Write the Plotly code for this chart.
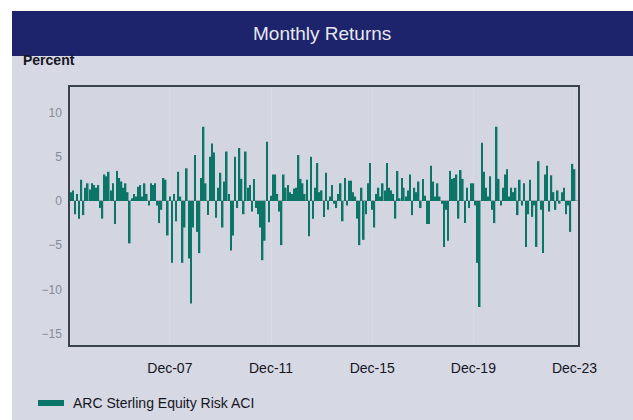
import plotly.graph_objects as go

series_name = "ARC Sterling Equity Risk ACI"
chart_title = "Monthly Returns"
y_axis_title = "Percent"
start_year = 2004

# Monthly returns (%), Jan 2004 .. Dec 2023, one list per year
r2004 = [1.0, 1.2, -1.5, 0.8, -2.0, 2.4, -1.6, 1.5, 2.0, 1.3, 2.0, 1.8]
r2005 = [1.5, 1.8, -0.8, -2.0, 3.0, 2.8, 3.3, 1.2, 2.0, -2.6, 3.4, 2.6]
r2006 = [2.2, 1.5, 2.0, 1.0, -4.8, 0.3, 0.8, 0.5, 1.6, 1.8, 0.5, 2.0]
r2007 = [0.8, -0.5, 2.0, 1.8, 2.0, -0.5, -2.5, -1.0, 2.6, 2.4, -3.9, 0.5]
r2008 = [-7.0, 0.8, -2.3, 3.3, 0.5, -7.0, -3.0, 3.7, -6.5, -11.6, -3.0, 5.2]
r2009 = [-3.5, -5.9, 2.6, 8.4, 2.0, -1.6, 5.0, 6.5, 5.5, -1.9, 1.5, 3.2]
r2010 = [-3.0, 2.2, 5.6, 0.8, -5.6, -3.9, 5.0, -0.8, 6.0, 2.5, -1.5, 5.6]
r2011 = [1.5, 1.8, -1.2, 2.5, -0.8, -1.5, -3.0, -6.7, -4.5, 6.7, -2.4, 0.6]
r2012 = [3.0, 3.0, 0.8, -1.2, -5.0, 3.0, 1.5, 1.8, 1.0, 0.8, 1.4, 1.5]
r2013 = [5.2, 2.5, 2.0, 0.8, 2.4, -4.0, 5.0, -2.0, 1.5, 4.3, 1.0, 1.2]
r2014 = [-1.8, 3.2, -1.0, 0.5, 1.8, -0.3, -0.8, 0.8, 2.0, -2.3, 2.6, -0.5]
r2015 = [2.3, 2.3, 1.0, 0.5, -2.0, -5.0, 1.5, -4.4, -1.5, 2.0, 4.3, -1.0]
r2016 = [-3.0, 0.8, 1.5, 0.5, 2.0, 1.2, 4.3, 1.5, 1.2, 0.8, -2.0, 3.4]
r2017 = [0.3, 2.6, 1.5, 0.5, 1.2, 3.0, -1.6, 1.5, 1.0, 2.2, -0.8, 2.5]
r2018 = [0.6, -2.6, -2.6, 4.0, 2.2, 0.5, 2.0, 0.5, -0.3, -5.2, -1.0, -4.5]
r2019 = [3.4, 2.5, 2.6, 3.0, -2.0, 3.5, 2.5, -2.5, 1.5, -0.8, 2.0, 2.0]
r2020 = [-0.5, -7.0, -12.0, 6.6, 3.3, 1.5, 0.5, 2.8, -1.0, -2.5, 8.4, 2.5]
r2021 = [-0.5, 1.5, 3.0, 3.6, 0.5, 1.5, 1.0, 1.5, -1.6, 2.4, -0.5, 2.0]
r2022 = [-5.2, -1.5, 2.4, -1.8, -0.5, -5.2, 4.5, -1.0, -5.9, 3.0, 4.0, -1.2]
r2023 = [2.9, 1.0, -1.0, 1.2, -0.3, 1.0, 1.5, -1.5, -0.5, -3.5, 4.2, 3.6]

yearly = [r2004, r2005, r2006, r2007, r2008, r2009, r2010, r2011, r2012, r2013,
          r2014, r2015, r2016, r2017, r2018, r2019, r2020, r2021, r2022, r2023]

dates = []
values = []
for k, yr in enumerate(yearly):
    for m, v in enumerate(yr):
        dates.append(f"{start_year + k}-{m + 1:02d}-15")
        values.append(v)

tick_dates = ["2007-12-15", "2011-12-15", "2015-12-15", "2019-12-15", "2023-12-15"]
tick_labels = ["Dec-07", "Dec-11", "Dec-15", "Dec-19", "Dec-23"]
y_ticks = [10, 5, 0, -5, -10, -15]

bar_color = "#0b7568"
bg = "#d6d8e3"
navy = "#1e246c"

fig = go.Figure()
fig.add_trace(go.Bar(x=dates, y=values, marker=dict(color=bar_color, line=dict(width=0)),
                     name=series_name, showlegend=False, hoverinfo="skip"))

# pixel -> paper helpers (plot area: x 70..578, y 87..345)
L, R, T, B = 70, 578, 87, 345
def px(x):
    return (x - L) / (R - L)
def py(y):
    return (B - y) / (B - T)

shapes = [
    # white margins (left and top)
    dict(type="rect", xref="paper", yref="paper", x0=px(0), x1=px(12), y0=py(420), y1=py(0),
         fillcolor="white", line=dict(width=0), layer="below"),
    dict(type="rect", xref="paper", yref="paper", x0=px(0), x1=px(633), y0=py(11), y1=py(0),
         fillcolor="white", line=dict(width=0), layer="below"),
    # title band
    dict(type="rect", xref="paper", yref="paper", x0=px(12), x1=px(633), y0=py(56), y1=py(11),
         fillcolor=navy, line=dict(width=0)),
    # legend swatch
    dict(type="rect", xref="paper", yref="paper", x0=px(38), x1=px(64), y0=py(406), y1=py(400),
         fillcolor=bar_color, line=dict(width=0)),
]

annotations = [
    dict(text=chart_title, xref="paper", yref="paper", x=px(322), y=py(33),
         showarrow=False, font=dict(family="Liberation Sans, Arial", size=19, color="#e6e8f2"),
         xanchor="center", yanchor="middle"),
    dict(text=f"<b>{y_axis_title}</b>", xref="paper", yref="paper", x=px(21), y=py(60),
         showarrow=False, font=dict(family="Liberation Sans, Arial", size=14, color="#15151f"),
         xanchor="left", yanchor="middle"),
    dict(text=series_name, xref="paper", yref="paper", x=px(71), y=py(403),
         showarrow=False, font=dict(family="Liberation Sans, Arial", size=14, color="#15151f"),
         xanchor="left", yanchor="middle"),
]

fig.update_layout(
    width=633, height=420,
    margin=dict(l=L, r=633 - R, t=T, b=420 - B, pad=0),
    paper_bgcolor=bg, plot_bgcolor="#d3d5e1",
    bargap=0.18,
    shapes=shapes, annotations=annotations,
    font=dict(family="Liberation Sans, Arial", color="#15151f"),
)
fig.update_xaxes(
    type="date", range=["2004-01-03", "2024-02-03"],
    tickvals=tick_dates, ticktext=tick_labels,
    tickfont=dict(size=14, color="#15151f"),
    showgrid=True, gridcolor="#d9dae6", gridwidth=1,
    showline=True, linecolor="#3a424c", linewidth=1.5, mirror=True,
    ticks="", ticklabelstandoff=9,
)
fig.update_yaxes(
    range=[-16.3, 12.9], tickvals=y_ticks,
    tickfont=dict(size=12, color="#858a9a"),
    showgrid=False,
    zeroline=True, zerolinecolor="#9ea3ad", zerolinewidth=1,
    showline=True, linecolor="#3a424c", linewidth=1.5, mirror=True,
    ticks="", ticklabelstandoff=4,
)

fig.write_html(
    "out.html",
    config={"displayModeBar": False},
    post_script="document.body.style.margin='0';document.body.style.padding='0';"
                "document.body.style.overflow='hidden';",
)
